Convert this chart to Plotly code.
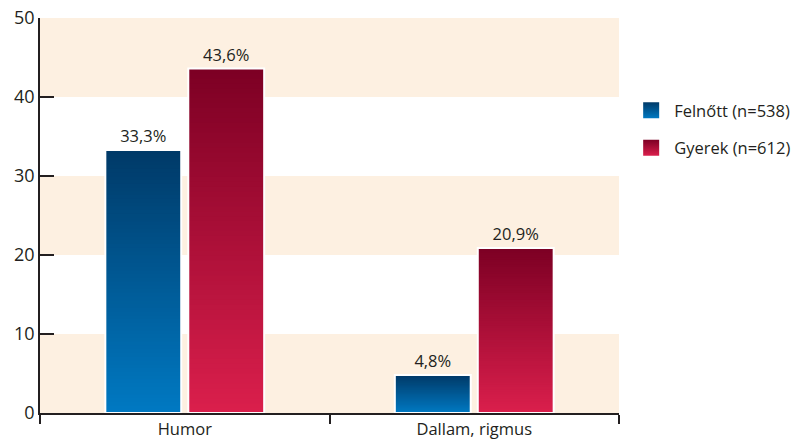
import plotly.graph_objects as go

# adatok
categories = ['Humor', 'Dallam, rigmus']
felnott = [33.3, 4.8]
gyerek = [43.6, 20.9]
felnott_labels = ['33,3%', '4,8%']
gyerek_labels = ['43,6%', '20,9%']
y_ticks = [0, 10, 20, 30, 40, 50]

series = [
    ('Felnőtt (n=538)', felnott, felnott_labels, (0, 58, 104), (0, 121, 194)),
    ('Gyerek (n=612)', gyerek, gyerek_labels, (125, 0, 36), (218, 31, 76)),
]

STEPS = 70
TXT = '#231f20'


def mix(c1, c2, t):
    return 'rgb({},{},{})'.format(*[round(a + (b - a) * t) for a, b in zip(c1, c2)])


fig = go.Figure()

# hatter savok
for lo in [0, 20, 40]:
    fig.add_shape(type='rect', xref='paper', x0=0, x1=1, yref='y', y0=lo, y1=lo + 10,
                  fillcolor='#fdf0e1', line_width=0, layer='below')

for i, (name, vals, labels, top, bottom) in enumerate(series):
    # szinatmenet: egymasra rajzolt, egyre alacsonyabb oszlopok
    for k in range(STEPS):
        f = (STEPS - k) / STEPS
        fig.add_trace(go.Bar(x=categories, y=[v * f for v in vals], offsetgroup=str(i),
                             marker=dict(color=mix(top, bottom, k / (STEPS - 1)), line_width=0),
                             showlegend=False, hoverinfo='skip'))
    # keret + felirat
    fig.add_trace(go.Bar(x=categories, y=vals, offsetgroup=str(i), text=labels,
                         textposition='outside', cliponaxis=False,
                         textfont=dict(size=16.5, color=TXT),
                         marker=dict(color='rgba(0,0,0,0)', line=dict(color='white', width=2)),
                         showlegend=False, hovertemplate='%{x}: %{text}<extra>' + name + '</extra>'))
    # jelmagyarazat
    fig.add_trace(go.Scatter(x=[None], y=[None], mode='markers', name=name, legendgroup=str(i),
                             marker=dict(symbol='square', size=16, color=mix(top, bottom, 0),
                                         gradient=dict(type='vertical', color=mix(top, bottom, 1)),
                                         line=dict(width=0))))

fig.update_layout(
    width=801, height=446, barmode='group', bargap=0.427, bargroupgap=0.085,
    plot_bgcolor='white', paper_bgcolor='white',
    margin=dict(l=32, r=190, t=10, b=41),
    font=dict(family='Open Sans', size=16, color=TXT),
    legend=dict(x=1.306, y=0.81, xanchor='right', yanchor='top', traceorder='grouped',
                tracegroupgap=13, font=dict(size=16.5, color=TXT), itemsizing='trace',
                itemwidth=36),
)
fig.update_xaxes(type='category', showline=True, linecolor=TXT, linewidth=1.5, automargin=False,
                 ticks='outside', tickson='boundaries', ticklen=9, tickwidth=1.5, tickcolor=TXT,
                 showgrid=False, tickfont=dict(size=16.5, color=TXT))
fig.update_yaxes(range=[0, 50], tickvals=y_ticks, showline=True, linecolor=TXT, linewidth=1.5,
                 automargin=False, ticks='inside', ticklen=14, tickwidth=1.5, tickcolor=TXT,
                 showgrid=False, zeroline=False, tickfont=dict(size=18, color=TXT),
                 ticklabeloverflow='allow')

fig.write_html('out.html')
